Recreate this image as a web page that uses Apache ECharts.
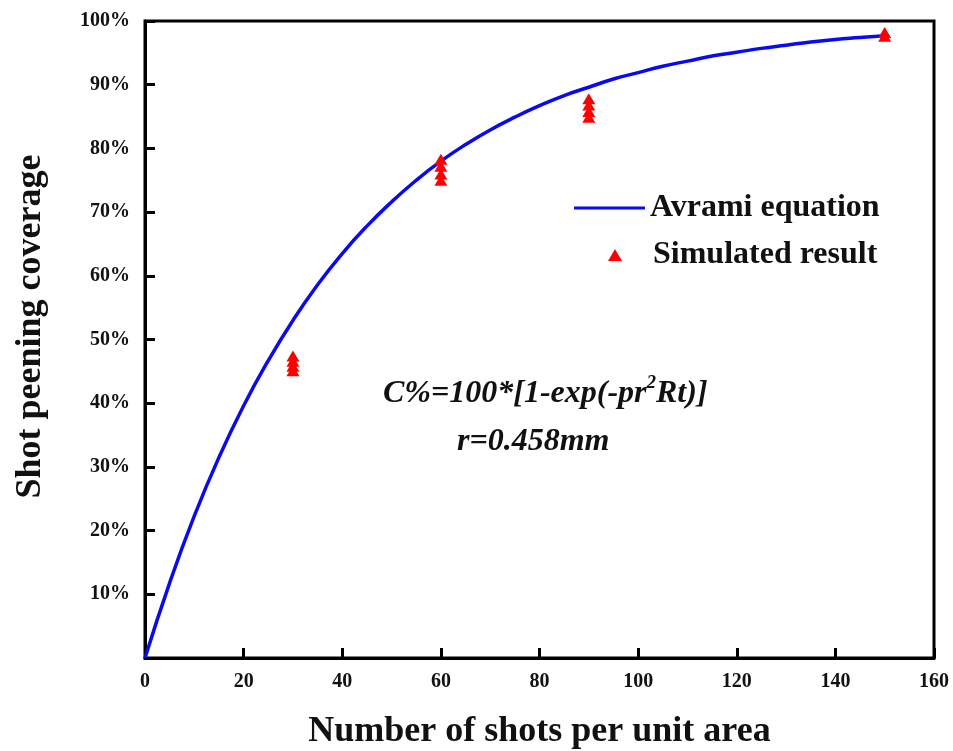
<!DOCTYPE html>
<html>
<head>
<meta charset="utf-8">
<script src="https://cdn.jsdelivr.net/npm/echarts@6/dist/echarts.min.js"></script>
<style>
  html, body { margin: 0; padding: 0; background: #fff; }
  #chart { width: 953px; height: 751px; }
</style>
</head>
<body>
<div id="chart"></div>
<script>
// Avrami fit curve: shots per unit area vs. coverage (%)
const avramiShots = [0, 5, 10, 15, 20, 25, 30, 35, 40, 45, 50, 55, 60, 65, 70, 75,
  80, 85, 90, 95, 100, 105, 110, 115, 120, 125, 130, 135, 140, 145, 150];
const avramiCoverage = [0, 11.8, 22.3, 31.5, 39.6, 46.7, 53.0, 58.6, 63.5, 67.8, 71.6,
  75.0, 78.0, 80.6, 82.9, 84.9, 86.7, 88.3, 89.6, 90.9, 91.9, 92.9, 93.7, 94.5,
  95.1, 95.7, 96.2, 96.7, 97.1, 97.4, 97.7];

// Simulated coverage results
const simShots = [30, 30, 30, 30, 60, 60, 60, 60, 90, 90, 90, 90, 150, 150];
const simCoverage = [45.1, 45.8, 46.6, 47.4, 75.0, 76.0, 77.2, 78.3, 84.9, 85.8, 86.8, 87.8, 97.6, 98.2];

const xMin = 0, xMax = 160, xStep = 20;
const yMin = 0, yMax = 100, yStep = 10;

const serif = '"Liberation Serif", "Times New Roman", serif';

const chart = echarts.init(document.getElementById('chart'), null, { renderer: 'canvas' });

const formulaFont = { fontFamily: serif, fontStyle: 'italic', fontWeight: 'bold', fill: '#111' };

chart.setOption({
  backgroundColor: '#ffffff',
  animation: false,
  grid: {
    left: 145, right: 19, top: 21, bottom: 93,
    outerBoundsMode: 'none',
    show: true, borderColor: '#000', borderWidth: 3, backgroundColor: 'transparent'
  },
  legend: [
    {
      data: [{ name: 'Avrami equation', icon: 'rect' }],
      left: 569, top: 187,
      itemWidth: 71, itemHeight: 3,
      textStyle: { fontFamily: serif, fontWeight: 'bold', fontSize: 32, color: '#111' }
    },
    {
      data: [{ name: 'Simulated result', icon: 'triangle' }],
      left: 603, top: 234,
      itemWidth: 14, itemHeight: 12,
      textStyle: { fontFamily: serif, fontWeight: 'bold', fontSize: 32, color: '#111', padding: [0, 0, 0, 26] }
    }
  ],
  xAxis: {
    type: 'value',
    min: xMin, max: xMax, interval: xStep,
    name: 'Number of shots per unit area',
    nameLocation: 'middle', nameGap: 56,
    nameTextStyle: { fontFamily: serif, fontWeight: 'bold', fontSize: 36, color: '#111' },
    axisLine: { show: true, lineStyle: { color: '#000', width: 3 } },
    axisTick: { show: true, inside: true, length: 10, lineStyle: { color: '#000', width: 3 } },
    axisLabel: { margin: 14, fontFamily: serif, fontWeight: 'bold', fontSize: 20, color: '#111' },
    splitLine: { show: false }
  },
  yAxis: {
    type: 'value',
    min: yMin, max: yMax, interval: yStep,
    name: 'Shot peening coverage',
    nameLocation: 'middle', nameGap: 96,
    nameTextStyle: { fontFamily: serif, fontWeight: 'bold', fontSize: 36, color: '#111', padding: [0, 0, 0, 26] },
    axisLine: { show: true, lineStyle: { color: '#000', width: 3 } },
    axisTick: { show: true, inside: true, length: 10, lineStyle: { color: '#000', width: 3 } },
    axisLabel: {
      margin: 15, fontFamily: serif, fontWeight: 'bold', fontSize: 20, color: '#111',
      formatter: v => (v === 0 ? '' : v + '%')
    },
    splitLine: { show: false }
  },
  graphic: [
    {
      type: 'text', left: 383, top: 374,
      style: {
        text: '{a|C%=100*[1-exp(-pr}{s|2}{a|Rt)]}',
        rich: {
          a: Object.assign({ fontSize: 32, lineHeight: 36, verticalAlign: 'bottom' }, formulaFont),
          s: Object.assign({ fontSize: 19, lineHeight: 36, verticalAlign: 'top' }, formulaFont)
        }
      }
    },
    {
      type: 'text', left: 457, top: 426,
      style: Object.assign({ text: 'r=0.458mm', fontSize: 32 }, formulaFont)
    }
  ],
  series: [
    {
      name: 'Avrami equation',
      type: 'line',
      data: avramiShots.map((x, i) => [x, avramiCoverage[i]]),
      smooth: true,
      showSymbol: false,
      symbol: 'none',
      itemStyle: { color: '#0a0aee' },
      lineStyle: { color: '#0a0aee', width: 3.5 },
      z: 2
    },
    {
      name: 'Simulated result',
      type: 'scatter',
      data: simShots.map((x, i) => [x, simCoverage[i]]),
      symbol: 'triangle',
      symbolSize: [13, 11],
      itemStyle: { color: '#f00', opacity: 1 },
      z: 3
    }
  ]
});
</script>
</body>
</html>
